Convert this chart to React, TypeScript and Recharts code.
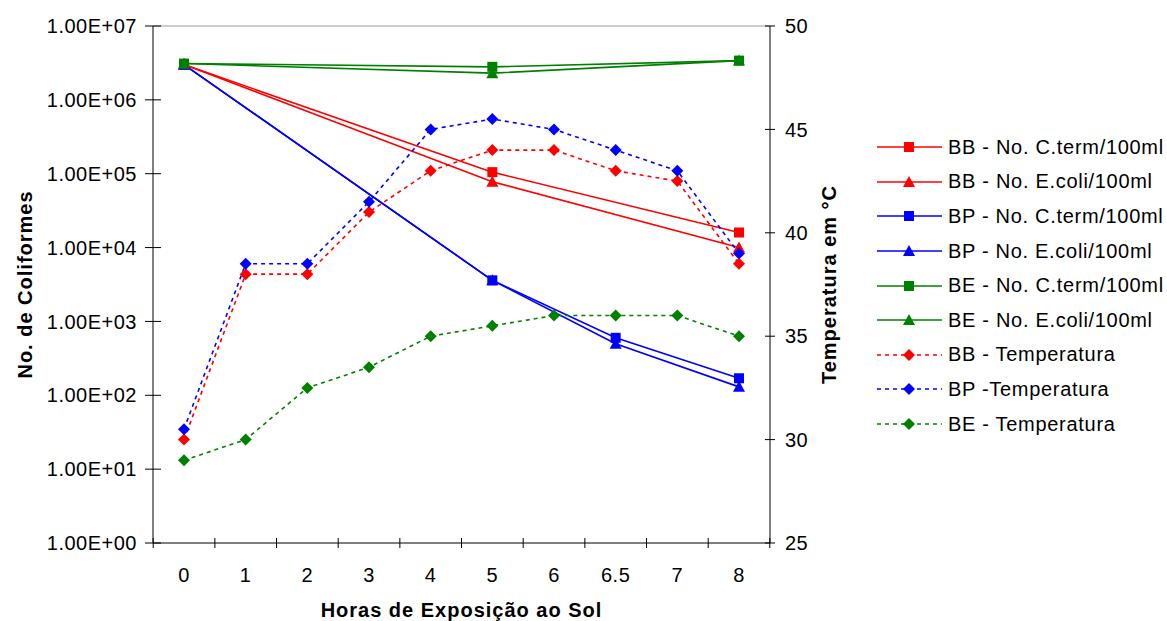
import { LineChart, Line, XAxis, YAxis, ReferenceLine } from "recharts";

const horas = ["0", "1", "2", "3", "4", "5", "6", "6.5", "7", "8"];

// coliformes (escala log), so medidos em 0, 5, 6.5 e 8 h
const bbCterm = [3.0e6, null, null, null, null, 1.05e5, null, null, null, 1.6e4];
const bbEcoli = [3.0e6, null, null, null, null, 7.8e4, null, null, null, 1.0e4];
const bpCterm = [3.0e6, null, null, null, null, 3.6e3, null, 6.0e2, null, 1.7e2];
const bpEcoli = [3.0e6, null, null, null, null, 3.6e3, null, 5.0e2, null, 1.3e2];
const beCterm = [3.1e6, null, null, null, null, 2.8e6, null, null, null, 3.4e6];
const beEcoli = [3.1e6, null, null, null, null, 2.3e6, null, null, null, 3.4e6];

// temperatura (°C)
const bbTemp = [30, 38, 38, 41, 43, 44, 44, 43, 42.5, 38.5];
const bpTemp = [30.5, 38.5, 38.5, 41.5, 45, 45.5, 45, 44, 43, 39];
const beTemp = [29, 30, 32.5, 33.5, 35, 35.5, 36, 36, 36, 35];

const logTicks = [1, 10, 100, 1e3, 1e4, 1e5, 1e6, 1e7];
const tempTicks = [25, 30, 35, 40, 45, 50];

const RED = "#ff0000";
const BLUE = "#0000ff";
const GREEN = "#008000";
const FONT = '"Liberation Sans", Arial, sans-serif';
const HALF = 30.8; // meia distancia entre categorias

const series = [
  { key: "bbCterm", name: "BB - No. C.term/100ml", color: RED, shape: "square", axis: "left", values: bbCterm },
  { key: "bbEcoli", name: "BB - No. E.coli/100ml", color: RED, shape: "triangle", axis: "left", values: bbEcoli },
  { key: "bpCterm", name: "BP - No. C.term/100ml", color: BLUE, shape: "square", axis: "left", values: bpCterm },
  { key: "bpEcoli", name: "BP - No. E.coli/100ml", color: BLUE, shape: "triangle", axis: "left", values: bpEcoli },
  { key: "beCterm", name: "BE - No. C.term/100ml", color: GREEN, shape: "square", axis: "left", values: beCterm },
  { key: "beEcoli", name: "BE - No. E.coli/100ml", color: GREEN, shape: "triangle", axis: "left", values: beEcoli },
  { key: "bbTemp", name: "BB - Temperatura", color: RED, shape: "diamond", axis: "right", values: bbTemp },
  { key: "bpTemp", name: "BP -Temperatura", color: BLUE, shape: "diamond", axis: "right", values: bpTemp },
  { key: "beTemp", name: "BE - Temperatura", color: GREEN, shape: "diamond", axis: "right", values: beTemp },
];

const data = horas.map((h, i) => {
  const row: Record<string, any> = { hora: h };
  series.forEach((s) => {
    row[s.key] = s.values[i];
  });
  return row;
});

function fmtExp(v: number) {
  const [m, e] = v.toExponential(2).split("e");
  const n = Number(e);
  return `${m}E${n < 0 ? "-" : "+"}${String(Math.abs(n)).padStart(2, "0")}`;
}

function Marker({ shape, color, cx, cy }: any) {
  if (shape === "square") {
    return <rect x={cx - 5} y={cy - 5} width={10} height={10} fill={color} />;
  }
  if (shape === "triangle") {
    return <polygon points={`${cx},${cy - 6} ${cx + 6},${cy + 5} ${cx - 6},${cy + 5}`} fill={color} />;
  }
  return <polygon points={`${cx},${cy - 6} ${cx + 6},${cy} ${cx},${cy + 6} ${cx - 6},${cy}`} fill={color} />;
}

const tickText = { fontSize: 20, fontFamily: FONT, fill: "#000", letterSpacing: 0.5 };
const titleStyle = { fontFamily: FONT, fontSize: 20, fontWeight: "bold", fill: "#000", letterSpacing: 1 };

function XTick({ x, y, payload, index }: any) {
  return (
    <g>
      <line x1={x - HALF} x2={x - HALF} y1={y - 5} y2={y + 5} stroke="#000" />
      {index === horas.length - 1 && (
        <line x1={x + HALF} x2={x + HALF} y1={y - 5} y2={y + 5} stroke="#000" />
      )}
      <text x={x} y={y + 39} textAnchor="middle" {...tickText}>
        {payload.value}
      </text>
    </g>
  );
}

function LeftTick({ x, y, payload }: any) {
  return (
    <g>
      <line x1={x + 8} x2={x + 24} y1={y} y2={y} stroke="#000" />
      <text x={x} y={y} dy="0.36em" textAnchor="end" {...tickText}>
        {fmtExp(payload.value)}
      </text>
    </g>
  );
}

function RightTick({ x, y, payload }: any) {
  return (
    <g>
      <line x1={x - 20} x2={x - 10} y1={y} y2={y} stroke="#000" />
      <text x={x} y={y} dy="0.36em" textAnchor="start" {...tickText}>
        {payload.value}
      </text>
    </g>
  );
}

function LegendBox() {
  return (
    <div
      style={{
        position: "absolute",
        left: 877,
        top: 130,
        fontFamily: FONT,
        fontSize: 20,
        letterSpacing: 0.7,
        color: "#000",
      }}
    >
      {series.map((s) => (
        <div key={s.key} style={{ height: 34.6, display: "flex", alignItems: "center", whiteSpace: "nowrap" }}>
          <svg width={65} height={20} style={{ marginRight: 6 }}>
            <line
              x1={0}
              x2={65}
              y1={10}
              y2={10}
              stroke={s.color}
              strokeWidth={1.6}
              strokeDasharray={s.axis === "right" ? "4 4" : undefined}
            />
            <Marker shape={s.shape} color={s.color} cx={32} cy={10} />
          </svg>
          <span>{s.name}</span>
        </div>
      ))}
    </div>
  );
}

export default function App() {
  return (
    <div style={{ position: "relative", width: 1167, height: 621, background: "#fff", overflow: "hidden" }}>
      <style>{"body{margin:0;overflow:hidden}"}</style>
      <LineChart
        width={1167}
        height={621}
        data={data}
        margin={{ top: 26, right: 317, bottom: 0, left: 0 }}
      >
        <XAxis
          dataKey="hora"
          height={78}
          padding={{ left: 31, right: 31 }}
          tickLine={false}
          tickSize={0}
          tickMargin={0}
          tick={<XTick />}
          interval={0}
          stroke="#000"
          label={{
            value: "Horas de Exposição ao Sol",
            position: "insideBottom",
            offset: 4,
            style: titleStyle,
          }}
        />
        <YAxis
          yAxisId="left"
          scale="log"
          domain={[1, 1e7]}
          ticks={logTicks}
          allowDataOverflow
          width={153}
          tickLine={false}
          tickSize={0}
          tickMargin={16}
          tick={<LeftTick />}
          interval={0}
          stroke="#000"
          label={{
            value: "No. de Coliformes",
            angle: -90,
            position: "insideLeft",
            offset: 25,
            style: { ...titleStyle, textAnchor: "middle" },
          }}
        />
        <YAxis
          yAxisId="right"
          orientation="right"
          domain={[25, 50]}
          ticks={tempTicks}
          width={80}
          tickLine={false}
          tickSize={0}
          tickMargin={15}
          tick={<RightTick />}
          interval={0}
          stroke="#000"
          label={{
            value: "Temperatura em °C",
            angle: -90,
            position: "insideRight",
            offset: 21,
            style: { ...titleStyle, textAnchor: "middle" },
          }}
        />
        <ReferenceLine yAxisId="left" y={1e7} stroke="#999" />
        {series.map((s) => (
          <Line
            key={s.key}
            yAxisId={s.axis}
            dataKey={s.key}
            name={s.name}
            type="linear"
            stroke={s.color}
            strokeWidth={1.6}
            strokeDasharray={s.axis === "right" ? "4 4" : undefined}
            connectNulls
            isAnimationActive={false}
            activeDot={false}
            dot={(p: any) =>
              p.value == null || p.cy == null ? (
                <g key={`${s.key}-${p.index}`} />
              ) : (
                <Marker key={`${s.key}-${p.index}`} shape={s.shape} color={s.color} cx={p.cx} cy={p.cy} />
              )
            }
          />
        ))}
      </LineChart>
      <LegendBox />
    </div>
  );
}
